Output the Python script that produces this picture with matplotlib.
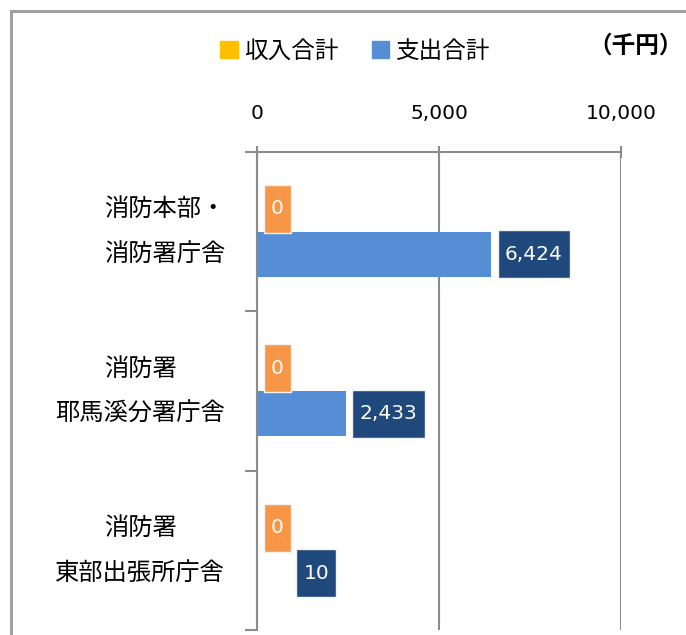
import matplotlib
matplotlib.use("Agg")
import matplotlib.pyplot as plt
from matplotlib.patches import Patch, Rectangle
from matplotlib.path import Path
from matplotlib.ticker import FuncFormatter

plt.rcParams["font.family"] = ["DejaVu Sans", "Noto Sans CJK JP"]

# ── data ──────────────────────────────────────────────────────────────────────
categories = ["消防本部・\n消防署庁舎", "消防署\n耶馬溪分署庁舎", "消防署\n東部出張所庁舎"]
income = [0, 0, 0]            # 収入合計
expense = [6424, 2433, 10]    # 支出合計
series_names = ["収入合計", "支出合計"]
x_ticks = [0, 5000, 10000]
unit_label = "（千円）"

# extra horizontal shift (px) of the expense value labels, as in the source
expense_label_shift = [0, 0, 32]

C_INCOME = "#FFC000"
C_INCOME_LBL = "#F79646"
C_EXPENSE = "#558ED5"
C_EXPENSE_LBL = "#1F497D"
C_GRID = "#8C8C8C"


def label_box(x0, y0, width, height, mutation_size):
    """Rectangle padded a little sideways and a lot vertically (bar-height box)."""
    px = 0.36 * mutation_size
    py = 0.72 * mutation_size
    x0, y0 = x0 - px, y0 - py
    x1, y1 = x0 + width + 2 * px, y0 + height + 2 * py
    return Path([(x0, y0), (x1, y0), (x1, y1), (x0, y1), (x0, y0)], closed=True)


fig = plt.figure(figsize=(6.86, 6.35), dpi=100)
ax = fig.add_axes([257 / 686, 1 - 630 / 635, (621 - 257) / 686, (630 - 152) / 635])

pos = list(range(len(categories)))
h = 0.285
ax.barh([p - h / 2 for p in pos], income, height=h, color=C_INCOME, zorder=3)
ax.barh([p + h / 2 for p in pos], expense, height=h, color=C_EXPENSE, zorder=3)

for p, v in zip(pos, income):
    ax.annotate(f"{v:,}", (v, p - h / 2), xytext=(14, 0), textcoords="offset pixels",
                ha="left", va="center", color="white", fontsize=14.5,
                bbox=dict(boxstyle=label_box, fc=C_INCOME_LBL, ec="#F2F2F2", lw=1),
                zorder=4)
for p, v, s in zip(pos, expense, expense_label_shift):
    ax.annotate(f"{v:,}", (v, p + h / 2), xytext=(14 + s, 0), textcoords="offset pixels",
                ha="left", va="center", color="white", fontsize=14.5,
                bbox=dict(boxstyle=label_box, fc=C_EXPENSE_LBL, ec="#F2F2F2", lw=1),
                zorder=4)

ax.set_xlim(0, 10000)
ax.set_ylim(2.5, -0.5)
ax.xaxis.tick_top()
ax.set_xticks(x_ticks)
ax.xaxis.set_major_formatter(FuncFormatter(lambda v, _: f"{int(v):,}"))
ax.tick_params(axis="x", direction="inout", length=8, width=1.5, color=C_GRID,
               pad=17, labelsize=14.5)
ax.xaxis.grid(True, color=C_GRID, lw=1.5, zorder=0)

ax.set_yticks(pos, categories)
ax.set_yticks([p - 0.5 for p in pos] + [2.5], minor=True)
ax.tick_params(axis="y", which="major", length=0, pad=23, labelsize=17.5)
ax.tick_params(axis="y", which="minor", direction="out", length=9, width=1.5, color=C_GRID)
for lbl in ax.get_yticklabels():
    lbl.set_multialignment("center")
    lbl.set_linespacing(2.1)
    lbl.set_verticalalignment("center")

for side in ("right", "bottom"):
    ax.spines[side].set_visible(False)
for side in ("left", "top"):
    ax.spines[side].set_color(C_GRID)
    ax.spines[side].set_linewidth(1.5)

handles = [Patch(color=C_INCOME), Patch(color=C_EXPENSE)]
fig.legend(handles, series_names, loc="center", bbox_to_anchor=(355 / 686, 1 - 51 / 635),
           ncol=2, frameon=False, fontsize=17, handlelength=0.75, handleheight=0.75,
           handletextpad=0.25, columnspacing=1.4)
fig.text(636 / 686, 1 - 46 / 635, unit_label, ha="center", va="center",
         fontsize=17, fontweight="bold")

# outer frame, cut off at right and bottom like the source crop
fig.patches.append(Rectangle((11 / 686, -0.1), 2, 1.1 - 11 / 635, transform=fig.transFigure,
                             fill=False, ec="#A0A0A0", lw=2.2))

fig.savefig("out.png", dpi=100)
